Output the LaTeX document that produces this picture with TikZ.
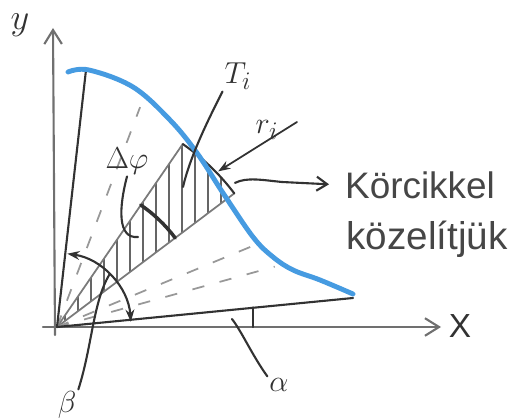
\documentclass[tikz,border=0pt]{standalone}
\usepackage{fontspec}
\setmainfont{Liberation Sans}
\usetikzlibrary{arrows.meta}
\definecolor{pencil}{RGB}{50,50,50}
\definecolor{crayon}{RGB}{70,155,225}

\begin{document}
\begin{tikzpicture}[x=0.02cm, y=0.02cm,
        pen/.style={draw=pencil, line width=1.2pt, line cap=round, line join=round},
        axis/.style={draw=pencil!70, line width=1.2pt, line cap=round, -{Straight Barb[length=8pt, width=10pt]}},
        ray/.style={draw=pencil!50, line width=1pt, dash pattern=on 7pt off 9pt},
        hatch/.style={draw=pencil!75, line width=0.6pt},
        edge/.style={draw=pencil!65, line width=1pt},
        curve/.style={draw=crayon, line width=2.8pt, line cap=round},
        lbl/.style={text=pencil, inner sep=1pt, font=\fontsize{19}{22}\selectfont},
        hand/.style={text=pencil!90, inner sep=1pt, font=\fontsize{21}{24}\selectfont},
        sharp/.tip={Stealth[length=7pt, width=5pt]}]

        \useasboundingbox (-57, -91) rectangle (456, 327);

        \coordinate (O) at (0, 0);
        \coordinate (y-start) at (-2, -8);
        \coordinate (y-end) at (-4, 299);
        \coordinate (x-start) at (-14, 0);
        \coordinate (x-end) at (384, 0);
        \coordinate (left-end) at (29, 257);
        \coordinate (bottom-end) at (296, 29);

        \draw[axis] (y-start) -- (y-end);
        \draw[axis] (x-start) -- (x-end);
        \node (lbl-y) at (-37, 302) [lbl, font=\fontsize{22}{24}\selectfont] {$y$};
        \node (lbl-x) at (403, 1) [lbl] {X};

        \coordinate (s-top) at (55.5:222);
        \coordinate (s-low) at (37:222);
        \begin{scope}
            \clip (O) -- (s-top) arc[start angle=55.5, end angle=37, radius=222] -- cycle;
            \foreach \hx in {8, 21, ..., 180}
                \draw[hatch] (\hx, 0) -- (\hx, 200);
        \end{scope}
        \draw[edge] (O) -- (s-top);
        \draw[edge] (O) -- (s-low);
        \draw[pen] (s-top) arc[start angle=55.5, end angle=37, radius=222];

        \draw[ray] (O) -- (69.3:235);
        \draw[ray] (O) -- (22.5:220);
        \draw[ray] (O) -- (15.5:226);

        \draw[pen] (O) -- (left-end);
        \draw[pen] (O) -- (bottom-end);

        \draw[curve] plot[smooth, tension=0.6] coordinates {(11, 255) (32, 257) (76, 240) (113, 207) (140, 174) (166, 134) (196, 90) (216, 70) (236, 57) (263, 47) (296, 33)};

        \coordinate (phi-a) at (55.5:148);
        \draw[pen, line width=2pt] (phi-a) arc[start angle=55.5, end angle=37, radius=148];
        \node (lbl-phi) at (70, 166) [lbl] {$\Delta\varphi$};
        \coordinate (phi-foot) at (81, 90);
        \draw[pen] (lbl-phi.south) .. controls (62, 120) and (60, 88) .. (phi-foot);

        \node (lbl-Ti) at (181, 251) [lbl] {$T_i$};
        \coordinate (Ti-end) at (126, 140);
        \draw[pen] (lbl-Ti.south west) .. controls (150, 205) and (133, 170) .. (Ti-end);

        \node (lbl-ri) at (210, 197) [lbl] {$r_i$};
        \coordinate (ri-tail) at (240, 205);
        \coordinate (ri-tip) at (44:224);
        \draw[pen, line width=1pt, -sharp] (ri-tail) -- (ri-tip);

        \node (txt-1) at (363, 142) [hand] {Körcikkel};
        \node (txt-2) at (370, 88) [hand, font=\fontsize{22}{25}\selectfont] {közelítjük};
        \coordinate (sec-out) at (39:229);
        \draw[pen, shorten >=8pt, -{Straight Barb[length=6pt, width=8pt]}] (sec-out) .. controls (190, 150) and (205, 147) .. (225, 145) -- (txt-1.west);

        \draw[pen, sharp-sharp] (82:74) arc[start angle=82, end angle=4, radius=74];
        \node (lbl-beta) at (10, -78) [lbl] {$\beta$};
        \coordinate (beta-end) at (45:74);
        \draw[pen] (lbl-beta.north east) .. controls (35, -20) and (36, 25) .. (beta-end);

        \coordinate (a-foot) at (196, 0);
        \coordinate (a-top) at (196, 19.6);
        \draw[pen] (a-foot) -- (a-top);
        \node (lbl-alpha) at (222, -58) [lbl] {$\alpha$};
        \coordinate (a-end) at (175, 8);
        \draw[pen] (lbl-alpha.north west) .. controls (195, -28) and (185, -5) .. (a-end);

    \end{tikzpicture}
\end{document}
